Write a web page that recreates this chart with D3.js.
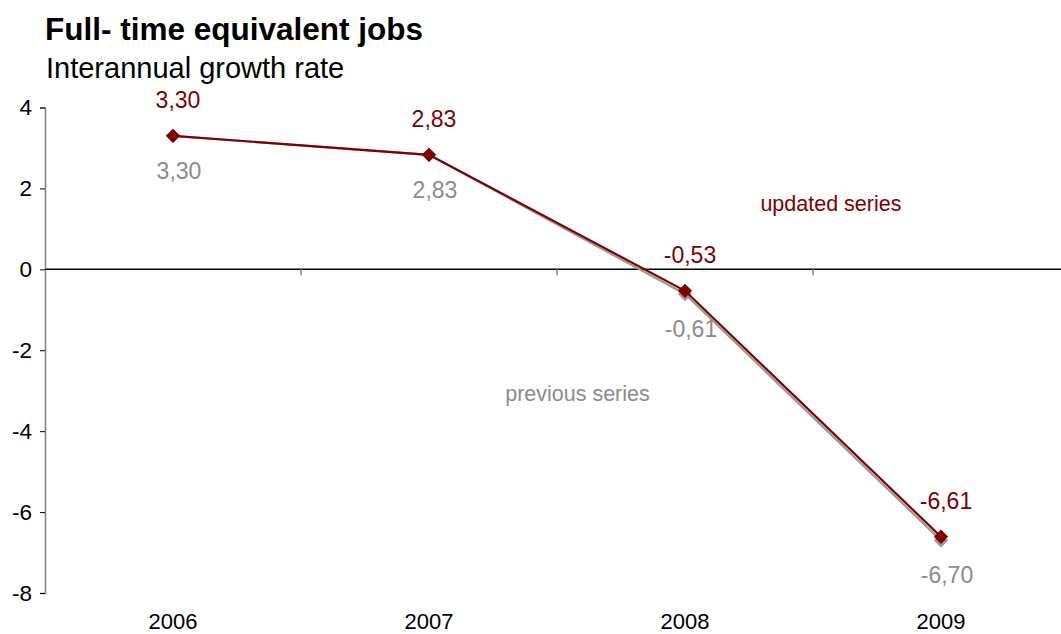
<!DOCTYPE html>
<html>
<head>
<meta charset="utf-8">
<script src="https://cdn.jsdelivr.net/npm/d3@7/dist/d3.min.js"></script>
<style>
  body { margin: 0; background: #fff; }
  svg { display: block; font-family: "Liberation Sans", Arial, sans-serif; }
</style>
</head>
<body>
<script>
// Chart data
var years = ['2006', '2007', '2008', '2009'],
    updatedSeries = [3.30, 2.83, -0.53, -6.61],
    previousSeries = [3.30, 2.83, -0.61, -6.70],
    yTicks = [4, 2, 0, -2, -4, -6, -8];

// Style configuration
var updatedColor = '#800000',
    previousColor = '#8c8c8c',
    axisColor = '#808080';

var W = 1061, H = 634;
var margin = {top: 107.5, left: 45, bottom: 41};

var svg = d3.select('body').append('svg')
    .attr('width', W).attr('height', H);

// Scales
var x = d3.scaleBand().domain(years).range([margin.left, margin.left + 4 * 256]);
var y = d3.scaleLinear().domain([-8, 4]).range([H - margin.bottom, margin.top]);

function cx(i) { return x(years[i]) + x.bandwidth() / 2; }

// Title
svg.append('text').attr('x', 45).attr('y', 40)
    .attr('font-size', 31.5).attr('font-weight', 'bold').attr('fill', '#000')
    .text('Full- time equivalent jobs');
svg.append('text').attr('x', 46).attr('y', 78)
    .attr('font-size', 29).attr('fill', '#000')
    .text('Interannual growth rate');

// Y axis
var yAxis = d3.axisLeft(y).tickValues(yTicks).tickSize(5).tickPadding(8)
    .tickFormat(function(d) { return String(d); });
var gy = svg.append('g').attr('transform', 'translate(' + margin.left + ',0)').call(yAxis);
gy.select('.domain').attr('stroke', axisColor).attr('stroke-width', 1.5);
gy.selectAll('.tick line').attr('stroke', '#000');
gy.selectAll('.tick text').attr('font-size', 22.5).attr('fill', '#000')
    .attr('font-family', '"Liberation Sans", Arial, sans-serif');

// X axis along zero
var xAxis = d3.axisBottom(x).tickSize(0).tickFormat('');
var gx = svg.append('g').attr('transform', 'translate(0,' + y(0) + ')').call(xAxis);
gx.select('.domain').remove();
gx.append('line').attr('x1', margin.left).attr('x2', W)
    .attr('stroke', '#000').attr('stroke-width', 1.5);
// category separator ticks
svg.selectAll('.sep').data(years.slice(1)).enter().append('line')
    .attr('x1', function(d) { return x(d); }).attr('x2', function(d) { return x(d); })
    .attr('y1', y(0)).attr('y2', y(0) + 6)
    .attr('stroke', axisColor).attr('stroke-width', 1.5);

// Year labels along bottom
svg.selectAll('.year').data(years).enter().append('text')
    .attr('x', function(d) { return x(d) + x.bandwidth() / 2; })
    .attr('y', H - 5)
    .attr('text-anchor', 'middle').attr('font-size', 22).attr('fill', '#000')
    .text(function(d) { return d; });

var line = d3.line()
    .x(function(d, i) { return cx(i); })
    .y(function(d) { return y(d); });

var diamond = d3.symbol().type(d3.symbolDiamond2).size(130);
var fmt = function(v) { return v.toFixed(2).replace('.', ','); };

function drawSeries(vals, color, cls) {
    var g = svg.append('g').attr('class', cls);
    g.append('path').datum(vals).attr('d', line)
        .attr('fill', 'none').attr('stroke', color).attr('stroke-width', 2.2);
    g.selectAll('path.m').data(vals).enter().append('path').attr('class', 'm')
        .attr('d', diamond)
        .attr('transform', function(d, i) { return 'translate(' + cx(i) + ',' + y(d) + ')'; })
        .attr('fill', color);
}

drawSeries(previousSeries, '#9a9a9a', 'previous');
drawSeries(updatedSeries, updatedColor, 'updated');

// Data labels
svg.selectAll('.lblU').data(updatedSeries).enter().append('text')
    .attr('x', function(d, i) { return cx(i) + 5; })
    .attr('y', function(d) { return y(d) - 28; })
    .attr('text-anchor', 'middle').attr('font-size', 23).attr('fill', updatedColor)
    .text(fmt);
svg.selectAll('.lblP').data(previousSeries).enter().append('text')
    .attr('x', function(d, i) { return cx(i) + 6; })
    .attr('y', function(d) { return y(d) + 43; })
    .attr('text-anchor', 'middle').attr('font-size', 23).attr('fill', previousColor)
    .text(fmt);

// Series names
svg.append('text')
    .attr('x', cx(2) + 0.57 * x.bandwidth()).attr('y', y(1.45))
    .attr('text-anchor', 'middle').attr('font-size', 21.5).attr('fill', updatedColor)
    .text('updated series');
svg.append('text')
    .attr('x', cx(1) + 0.58 * x.bandwidth()).attr('y', y(-3.25))
    .attr('text-anchor', 'middle').attr('font-size', 21.5).attr('fill', previousColor)
    .text('previous series');
</script>
</body>
</html>
